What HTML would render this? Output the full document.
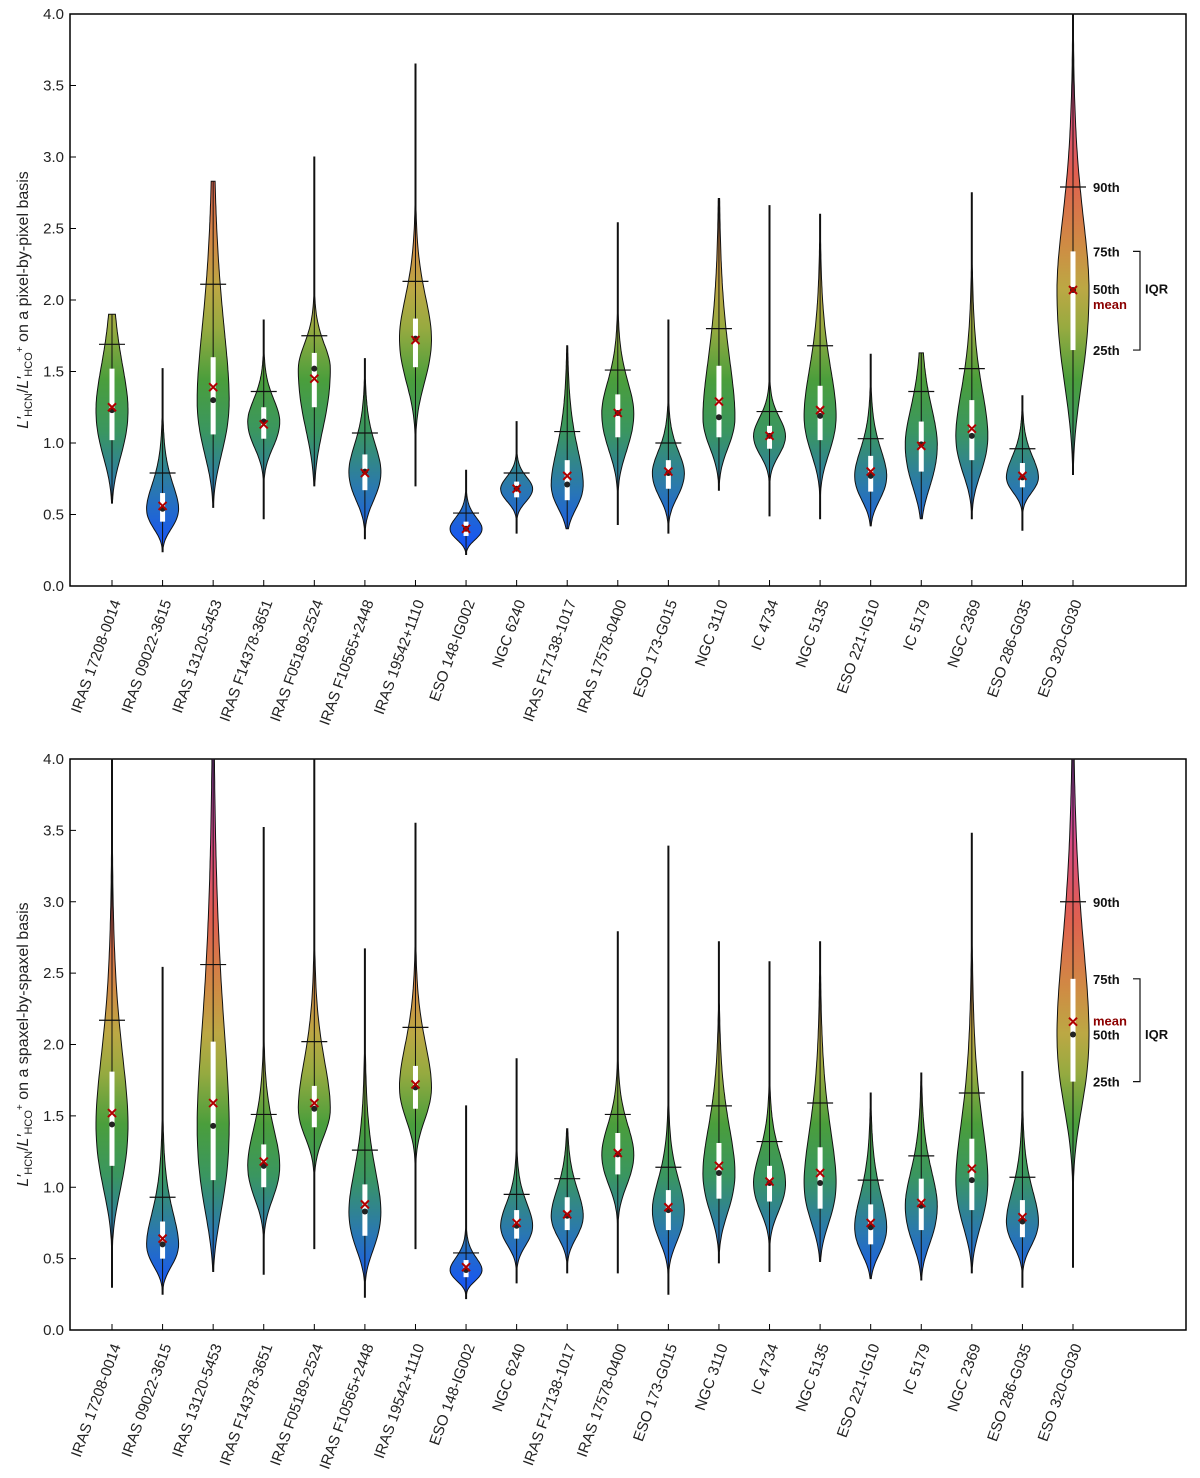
<!DOCTYPE html>
<html><head><meta charset="utf-8">
<style>
html,body{margin:0;padding:0;background:#fff;}
svg{display:block;font-family:"Liberation Sans",sans-serif;}
</style></head>
<body>
<svg id="chart" width="1200" height="1478" viewBox="0 0 1200 1478" xmlns="http://www.w3.org/2000/svg">
<defs>
<linearGradient id="gTop" gradientUnits="userSpaceOnUse" x1="0" y1="586" x2="0" y2="14">
<stop offset="0.06" stop-color="#1450ff"/><stop offset="0.17" stop-color="#2a78b0"/><stop offset="0.27" stop-color="#3a9660"/><stop offset="0.36" stop-color="#4a9e3c"/><stop offset="0.45" stop-color="#96aa40"/><stop offset="0.52" stop-color="#bca844"/><stop offset="0.6" stop-color="#d08a44"/><stop offset="0.72" stop-color="#e06050"/><stop offset="0.85" stop-color="#d84c80"/><stop offset="1" stop-color="#b040c8"/>
</linearGradient>
<linearGradient id="gBot" gradientUnits="userSpaceOnUse" x1="0" y1="1330" x2="0" y2="759">
<stop offset="0.06" stop-color="#1450ff"/><stop offset="0.17" stop-color="#2a78b0"/><stop offset="0.27" stop-color="#3a9660"/><stop offset="0.36" stop-color="#4a9e3c"/><stop offset="0.45" stop-color="#96aa40"/><stop offset="0.52" stop-color="#bca844"/><stop offset="0.6" stop-color="#d08a44"/><stop offset="0.72" stop-color="#e06050"/><stop offset="0.85" stop-color="#d84c80"/><stop offset="1" stop-color="#b040c8"/>
</linearGradient>
</defs>
</svg>
<script>
const categories=["IRAS 17208-0014","IRAS 09022-3615","IRAS 13120-5453","IRAS F14378-3651","IRAS F05189-2524","IRAS F10565+2448","IRAS 19542+1110","ESO 148-IG002","NGC 6240","IRAS F17138-1017","IRAS 17578-0400","ESO 173-G015","NGC 3110","IC 4734","NGC 5135","ESO 221-IG10","IC 5179","NGC 2369","ESO 286-G035","ESO 320-G030"];
const yTicks=[0,0.5,1,1.5,2,2.5,3,3.5,4];
const yTickLabels=["0.0","0.5","1.0","1.5","2.0","2.5","3.0","3.5","4.0"];
// top panel (pixel-by-pixel)
const topMin=[0.58,0.24,0.55,0.47,0.7,0.33,0.7,0.22,0.37,0.4,0.43,0.37,0.67,0.49,0.47,0.42,0.47,0.47,0.39,0.78];
const topMax=[1.9,1.52,2.83,1.86,3.0,1.59,3.65,0.81,1.15,1.68,2.54,1.86,2.71,2.66,2.6,1.62,1.63,2.75,1.33,4.0];
const topP25=[1.02,0.45,1.06,1.03,1.25,0.67,1.53,0.35,0.62,0.6,1.04,0.68,1.04,0.96,1.02,0.66,0.8,0.88,0.69,1.65];
const topP75=[1.52,0.65,1.6,1.25,1.63,0.92,1.87,0.45,0.73,0.88,1.34,0.88,1.54,1.12,1.4,0.91,1.15,1.3,0.86,2.34];
const topMed=[1.23,0.54,1.3,1.15,1.52,0.8,1.73,0.4,0.68,0.71,1.21,0.79,1.18,1.05,1.19,0.77,0.99,1.05,0.76,2.07];
const topMean=[1.25,0.56,1.39,1.13,1.45,0.79,1.72,0.4,0.68,0.77,1.21,0.8,1.29,1.05,1.23,0.8,0.98,1.1,0.77,2.07];
const topP90=[1.69,0.79,2.11,1.36,1.75,1.07,2.13,0.51,0.79,1.08,1.51,1.0,1.8,1.22,1.68,1.03,1.36,1.52,0.96,2.79];
// bottom panel (spaxel-by-spaxel)
const botMin=[0.3,0.25,0.41,0.39,0.57,0.23,0.57,0.22,0.33,0.4,0.4,0.25,0.47,0.41,0.48,0.36,0.35,0.4,0.3,0.44];
const botMax=[4.0,2.54,4.0,3.52,4.0,2.67,3.55,1.57,1.9,1.41,2.79,3.39,2.72,2.58,2.72,1.66,1.8,3.48,1.81,4.0];
const botP25=[1.15,0.5,1.05,1.0,1.42,0.66,1.55,0.37,0.64,0.7,1.09,0.7,0.92,0.9,0.85,0.6,0.7,0.84,0.65,1.74];
const botP75=[1.81,0.76,2.02,1.3,1.71,1.02,1.85,0.49,0.84,0.93,1.38,0.98,1.31,1.15,1.28,0.88,1.06,1.34,0.91,2.46];
const botMed=[1.44,0.6,1.43,1.15,1.55,0.83,1.7,0.42,0.73,0.8,1.23,0.84,1.1,1.03,1.03,0.72,0.87,1.05,0.76,2.07];
const botMean=[1.52,0.64,1.59,1.18,1.59,0.88,1.72,0.44,0.75,0.81,1.24,0.86,1.15,1.04,1.1,0.75,0.89,1.13,0.79,2.16];
const botP90=[2.17,0.93,2.56,1.51,2.02,1.26,2.12,0.54,0.95,1.06,1.51,1.14,1.57,1.32,1.59,1.05,1.22,1.66,1.07,3.0];

const svg=document.getElementById('chart');
const NS="http://www.w3.org/2000/svg";
function mk(tag,attrs,parent){const e=document.createElementNS(NS,tag);for(const k in attrs)e.setAttribute(k,attrs[k]);(parent||svg).appendChild(e);return e;}
const X0=112, XSTEP=(1073-112)/19, L=70, R=1186;
function xS(i){return X0+i*XSTEP;}

function panel(P){
  const yS=v=>P.y0-(P.y0-P.y4)*v/4;
  const g=mk('g',{});
  
  
  const fr=mk('rect',{x:L,y:P.y4,width:R-L,height:P.y0-P.y4,fill:'none',stroke:'#000','stroke-width':1.5},g);
  
  
  yTicks.forEach((v,k)=>{
    const t=mk('line',{x1:L,x2:L+6,y1:yS(v),y2:yS(v),stroke:'#000','stroke-width':1},g);
    
    
    const tl=mk('text',{x:L-6,y:yS(v)+5,'text-anchor':'end','font-size':15,fill:'#222'},g);
    tl.textContent=yTickLabels[k];
    
    
  });
  const yt=mk('text',{transform:`translate(28,${(P.y0+P.y4)/2}) rotate(-90)`,'text-anchor':'middle','font-size':16,fill:'#222'},g);
  yt.innerHTML=`<tspan font-style="italic">L′</tspan><tspan font-size="11" dy="4">HCN</tspan><tspan dy="-4">/</tspan><tspan font-style="italic">L′</tspan><tspan font-size="11" dy="4">HCO</tspan><tspan font-size="10" dy="-9">+</tspan><tspan dy="5"> on a ${P.basis} basis</tspan>`;
  
  
  categories.forEach((c,i)=>{
    const x=xS(i);
    const xt=mk('line',{x1:x,x2:x,y1:P.y0,y2:P.y0-6,stroke:'#000','stroke-width':1},g);
    
    
    const lab=mk('text',{transform:`translate(${x+9},${P.y0+16}) rotate(-70)`,'text-anchor':'end','font-size':15,fill:'#222'},g);
    lab.textContent=c;
    
    
    const mn=P.min[i], mx=Math.min(P.max[i],4), md=P.med[i];
    const sLo=(Math.log(md)-Math.log(P.p25[i]))/0.674;
    const sHi=(Math.log(P.p90[i])-Math.log(md))/1.28;
    const W=16, N=90, right=[], left=[];
    for(let k=0;k<=N;k++){
      const v=mn+(mx-mn)*k/N;
      const z=(Math.log(v)-Math.log(md))/(v<md?sLo:sHi);
      let w=W*Math.exp(-0.5*z*z);
      w=Math.max(w,0.5);
      right.push([x+w,yS(v)]); left.push([x-w,yS(v)]);
    }
    const pts=right.concat(left.reverse()).map(p=>p[0].toFixed(1)+','+p[1].toFixed(1));
    const vio=mk('path',{d:'M'+pts.join('L')+'Z',fill:`url(#${P.grad})`,stroke:'#111','stroke-width':1},g);
    
    
    const ln=mk('line',{x1:x,x2:x,y1:yS(mn),y2:yS(mx),stroke:'#111','stroke-width':1},g);
    
    
    const iqr=mk('rect',{x:x-2.5,width:5,y:yS(P.p75[i]),height:yS(P.p25[i])-yS(P.p75[i]),fill:'#fff'},g);
    
    
    const p9=mk('line',{x1:x-13,x2:x+13,y1:yS(P.p90[i]),y2:yS(P.p90[i]),stroke:'#111','stroke-width':1.2},g);
    
    
    const dot=mk('circle',{cx:x,cy:yS(md),r:3,fill:'#222'},g);
    
    
    const my=yS(P.mean[i]);
    const mm=mk('path',{d:`M${x-4},${my-4}L${x+4},${my+4}M${x-4},${my+4}L${x+4},${my-4}`,stroke:'#b00000','stroke-width':2,fill:'none'},g);
    
    
  });
  const j=19, ax=1093;
  const ann=[['90th',P.p90[j],'#111',P.off90],['75th',P.p75[j],'#111',0],['50th',P.med[j],'#111',P.off50],['mean',P.mean[j],'#8b0000',P.offMean],['25th',P.p25[j],'#111',0]];
  ann.forEach(a=>{
    const t=mk('text',{x:ax,y:yS(a[1])+5+a[3],'font-size':13,'font-weight':'bold',fill:a[2]},g);
    t.textContent=a[0];
    
    
  });
  const br=mk('path',{d:`M1133,${yS(P.p75[j])}H1140V${yS(P.p25[j])}H1133`,stroke:'#111','stroke-width':1.2,fill:'none'},g);
  
  
  const iq=mk('text',{x:1145,y:(yS(P.p75[j])+yS(P.p25[j]))/2+5+P.offIqr,'font-size':13,'font-weight':'bold',fill:'#111'},g);
  iq.textContent='IQR';
  
  
}
panel({name:'top-panel',basis:'pixel-by-pixel',y0:586,y4:14,grad:'gTop',min:topMin,max:topMax,p25:topP25,p75:topP75,med:topMed,mean:topMean,p90:topP90,off90:0,off50:-1,offMean:14,offIqr:-12});
panel({name:'bottom-panel',basis:'spaxel-by-spaxel',y0:1330,y4:759,grad:'gBot',min:botMin,max:botMax,p25:botP25,p75:botP75,med:botMed,mean:botMean,p90:botP90,off90:0,off50:0,offMean:-1,offIqr:4});
</script>
</body></html>
